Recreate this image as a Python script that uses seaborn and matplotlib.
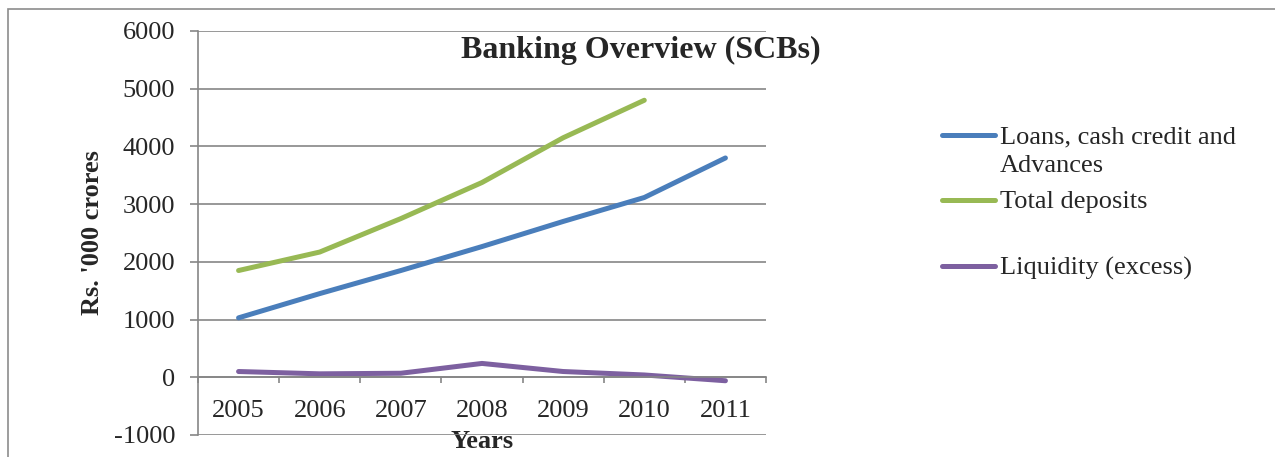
import numpy as np
import pandas as pd
import matplotlib.pyplot as plt
from matplotlib.lines import Line2D
from matplotlib.patches import Rectangle
import seaborn as sns

# data (Rs. '000 crores)
years = ["2005", "2006", "2007", "2008", "2009", "2010", "2011"]
loans = [1030, 1450, 1850, 2265, 2700, 3115, 3800]
deposits = [1850, 2170, 2750, 3375, 4150, 4800, np.nan]
liquidity = [100, 60, 70, 240, 100, 40, -60]
series_names = ["Loans, cash credit and\nAdvances", "Total deposits", "Liquidity (excess)"]
colors = ["#4A7EBB", "#98B954", "#7D60A0"]

pos = np.arange(len(years))
df = pd.concat([
    pd.DataFrame({"pos": pos, "value": vals, "series": name})
    for name, vals in zip(series_names, [loans, deposits, liquidity])
], ignore_index=True)

sns.set_style("white")
plt.rcParams["font.family"] = ["Liberation Serif", "DejaVu Serif"]
plt.rcParams["lines.solid_capstyle"] = "round"
plt.rcParams["axes.unicode_minus"] = False

grey = "#868686"
W, H = 1275, 457
fig = plt.figure(figsize=(W / 100, H / 100), dpi=100)
ax = fig.add_axes([198 / W, 1 - 435 / H, 568 / W, 404 / H])

sns.lineplot(data=df, x="pos", y="value", hue="series", hue_order=series_names,
             palette=colors, linewidth=3.6, legend=False, ax=ax)

ax.set_xlim(-0.5, len(years) - 0.5)
ax.set_ylim(-1000, 6000)
ax.set_yticks(range(-1000, 6001, 1000))
ax.yaxis.grid(True, color=grey, lw=1.2)
ax.xaxis.grid(False)
ax.set_axisbelow(True)

for s in ["top", "right"]:
    ax.spines[s].set_visible(False)
ax.spines["left"].set_color(grey)
ax.spines["left"].set_linewidth(1.2)
ax.spines["bottom"].set_position(("data", 0))
ax.spines["bottom"].set_color(grey)
ax.spines["bottom"].set_linewidth(1.2)

# category axis: tick marks between categories, labels at centres
ax.set_xticks(np.arange(-0.5, len(years), 1))
ax.set_xticklabels([])
ax.set_xticks(pos, minor=True)
ax.set_xticklabels(years, minor=True)
ax.tick_params(axis="x", which="major", length=4.5, width=1.2, color=grey, direction="out", bottom=True)
ax.tick_params(axis="x", which="minor", length=0, pad=16, labelsize=19, bottom=True)
ax.tick_params(axis="y", length=5.8, width=1.2, color=grey, direction="out", pad=10.5,
               labelsize=19, left=True)

ax.set_ylabel("Rs. '000 crores", fontsize=19, fontweight="bold")
ax.yaxis.set_label_coords(-0.165, 0.5)
ax.set_xlabel("Years", fontsize=19, fontweight="bold")
ax.xaxis.set_label_coords(0.5, 0.012)

fig.text(641 / W, 1 - 50 / H, "Banking Overview (SCBs)", ha="center", va="center",
         fontsize=23, fontweight="bold")

# legend drawn like the Excel one: handle beside the first text line
for name, color, ly in zip(series_names, colors, [135, 200, 266]):
    fig.add_artist(Line2D([942 / W, 995 / W], [1 - ly / H, 1 - ly / H],
                          transform=fig.transFigure, color=color, lw=3.6,
                          solid_capstyle="round"))
    fig.text(1000 / W, 1 - (ly - 9) / H, name, ha="left", va="top",
             fontsize=19, linespacing=1.4)

# chart area border
fig.add_artist(Rectangle((8 / W, -0.5), 2, 1.5 - 9 / H, transform=fig.transFigure,
                         fill=False, edgecolor="#8c8c8c", lw=1.2))

fig.savefig("out.png", dpi=100)
